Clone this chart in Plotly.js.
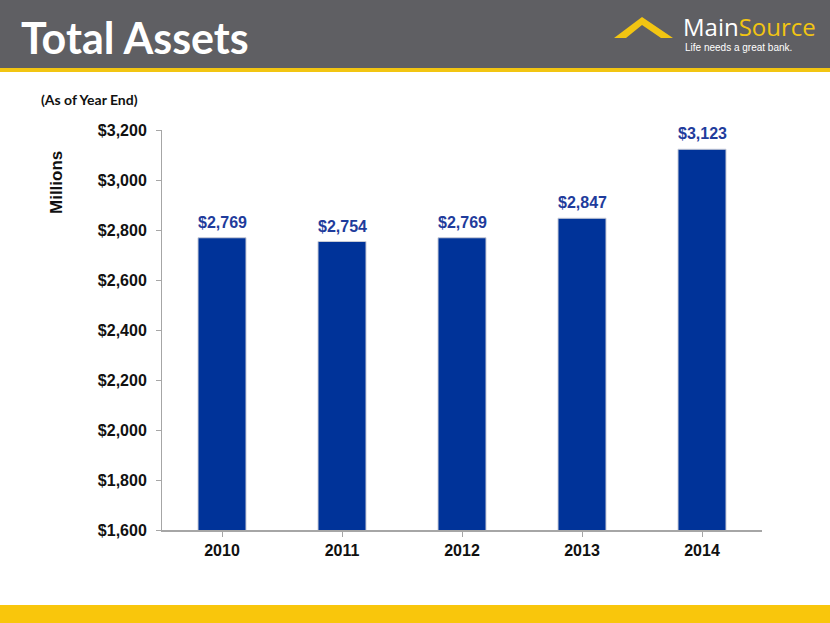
<!DOCTYPE html>
<html><head><meta charset="utf-8">
<script src="https://cdn.plot.ly/plotly-3.0.1.min.js"></script>
<style>html,body{margin:0;padding:0;background:#fff;}#chart{width:830px;height:623px;}</style>
</head><body><div id="chart"></div>
<script>
const years = ['2010','2011','2012','2013','2014'];
const assets = [2769, 2754, 2769, 2847, 3123];
const valueLabels = ['$2,769','$2,754','$2,769','$2,847','$3,123'];

const L=162, R=762, T=130, B=530;
const px = x => (x-L)/(R-L);
const py = y => (B-y)/(B-T);

const trace = {
  type:'bar', x: years, y: assets,
  marker:{color:'#003399', line:{color:'#c8cbd6', width:1}},
  hoverinfo:'skip'
};

const roof = `M ${px(614)},${py(38)} L ${px(642)},${py(17)} L ${px(673)},${py(38)} L ${px(661)},${py(38)} L ${px(642)},${py(25)} L ${px(626)},${py(38)} Z`;

const valueAnns = years.map((yr,i)=>({
  x: yr, y: assets[i], xref:'x', yref:'y', yanchor:'bottom', yshift:5, showarrow:false,
  text:'<b>'+valueLabels[i]+'</b>', font:{family:'Liberation Sans, Arial', size:16, color:'#1f3c9c'}
}));

const layout = {
  width:830, height:623,
  margin:{l:L, r:830-R, t:T, b:623-B},
  paper_bgcolor:'#ffffff', plot_bgcolor:'#ffffff',
  showlegend:false,
  bargap:0.6,
  xaxis:{showline:true, linecolor:'#a6a6a6', linewidth:1.5, ticks:'outside', tickcolor:'#a6a6a6', ticklen:5,
    tickson:'boundaries', showgrid:false,
    tickfont:{family:'Liberation Sans, Arial', size:16, color:'#111', weight:'bold'}},
  yaxis:{range:[1600,3200], dtick:200, tickprefix:'$', tickformat:',', showline:true, linecolor:'#a6a6a6',
    linewidth:1, ticks:'outside', tickcolor:'#a6a6a6', ticklen:5, ticklabelstandoff:6, showgrid:false, zeroline:false,
    tickfont:{family:'Liberation Sans, Arial', size:16, color:'#111', weight:'bold'}},
  shapes:[
    {type:'rect', xref:'paper', yref:'paper', x0:px(0), x1:px(830), y0:py(0), y1:py(68), fillcolor:'#5f5f63', line:{width:0}, layer:'below'},
    {type:'rect', xref:'paper', yref:'paper', x0:px(0), x1:px(830), y0:py(68), y1:py(72), fillcolor:'#f2c512', line:{width:0}, layer:'below'},
    {type:'rect', xref:'paper', yref:'paper', x0:px(0), x1:px(830), y0:py(605), y1:py(623), fillcolor:'#f9c60c', line:{width:0}, layer:'below'},
    {type:'path', xref:'paper', yref:'paper', path:roof, fillcolor:'#f2c512', line:{width:0}}
  ],
  annotations:[
    {xref:'paper', yref:'paper', x:px(19), y:py(37), xanchor:'left', yanchor:'middle', showarrow:false,
     text:'<b>Total Assets</b>', font:{family:'Lato, Open Sans', size:43, color:'#ffffff'}},
    {xref:'paper', yref:'paper', x:px(681), y:py(27), xanchor:'left', yanchor:'middle', showarrow:false,
     text:'Main<span style="color:#f2c512">Source</span>', font:{family:'Open Sans', size:24, color:'#ffffff'}},
    {xref:'paper', yref:'paper', x:px(683), y:py(48), xanchor:'left', yanchor:'middle', showarrow:false,
     text:'Life needs a great bank.', font:{family:'Liberation Sans Narrow, Liberation Sans', size:10, color:'#ffffff'}},
    {xref:'paper', yref:'paper', x:px(39), y:py(99), xanchor:'left', yanchor:'middle', showarrow:false,
     text:'<b>(As of Year End)</b>', font:{family:'Lato, Open Sans', size:14, color:'#111'}},
    {xref:'paper', yref:'paper', x:px(57), y:py(183), xanchor:'center', yanchor:'middle', showarrow:false, textangle:-90,
     text:'<b>Millions</b>', font:{family:'Liberation Sans, Arial', size:17, color:'#111'}}
  ].concat(valueAnns)
};
Plotly.newPlot('chart',[trace],layout,{staticPlot:true, displayModeBar:false});
</script></body></html>
